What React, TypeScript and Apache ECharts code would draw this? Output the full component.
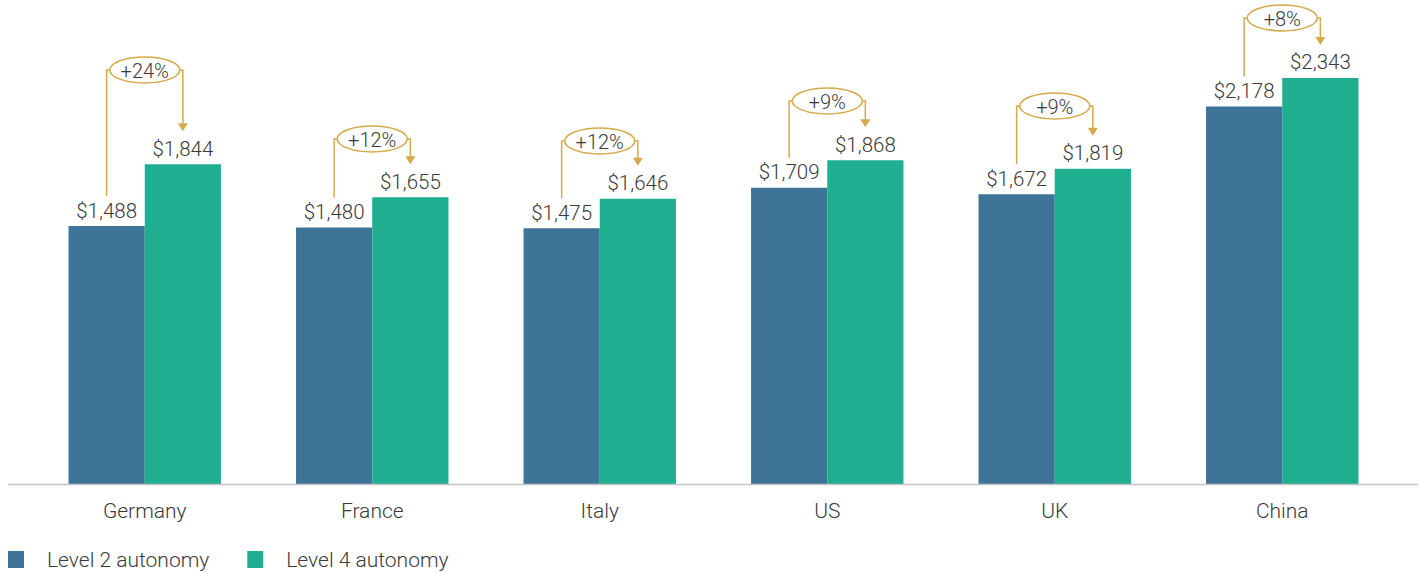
import React, { useEffect, useRef } from "react";
import * as echarts from "echarts";

const categories = ["Germany", "France", "Italy", "US", "UK", "China"];
const level2 = [1488, 1480, 1475, 1709, 1672, 2178];
const level4 = [1844, 1655, 1646, 1868, 1819, 2343];
const changeLabels = ["+24%", "+12%", "+12%", "+9%", "+9%", "+8%"];
const bracketTop = [2389, 1991, 1979, 2210, 2181, 2689];

const C2 = "#3E7497";
const C4 = "#1FAE8F";
const GOLD = "#D6A94A";
const TEXT = "#3a3a3a";
const FONT = "Roboto";
const GAP_PCT = 33;

export default function App() {
  const ref = useRef<HTMLDivElement>(null);
  useEffect(() => {
    const chart = echarts.init(ref.current!, null, { renderer: "svg" });
    const fmt = (v: number) => "$" + v.toLocaleString("en-US");
    const bracketData = categories.map((_, i) => [i, level2[i], level4[i], bracketTop[i]]);
    chart.setOption({
      animation: false,
      grid: { left: 31, right: 30, top: 16, bottom: 89, containLabel: false },
      legend: {
        left: 8,
        top: 549,
        padding: 0,
        icon: "rect",
        itemWidth: 16,
        itemHeight: 17,
        itemGap: 38,
        textStyle: { fontFamily: FONT, fontWeight: 300, fontSize: 21, color: TEXT, padding: [0, 0, 0, 18] },
        data: ["Level 2 autonomy", "Level 4 autonomy"],
      },
      xAxis: {
        type: "category",
        data: categories,
        axisLine: { show: false },
        axisTick: { show: false },
        axisLabel: { fontFamily: FONT, fontWeight: 300, fontSize: 21, color: TEXT, margin: 16 },
      },
      yAxis: { type: "value", min: 0, max: 2700, show: false, splitLine: { show: false } },
      graphic: [
        { type: "line", shape: { x1: 8, y1: 484.5, x2: 1418, y2: 484.5 }, style: { stroke: "#c4c4c4", lineWidth: 1.5 }, z: 10 },
      ],
      series: [
        {
          name: "Level 2 autonomy",
          type: "bar",
          data: level2,
          barGap: "0%",
          barCategoryGap: GAP_PCT + "%",
          itemStyle: { color: C2 },
          label: { show: true, position: "top", distance: 5, formatter: (p: any) => fmt(p.value), fontFamily: FONT, fontWeight: 300, fontSize: 20.5, color: TEXT },
        },
        {
          name: "Level 4 autonomy",
          type: "bar",
          data: level4,
          barGap: "0%",
          barCategoryGap: GAP_PCT + "%",
          itemStyle: { color: C4 },
          label: { show: true, position: "top", distance: 5, formatter: (p: any) => fmt(p.value), fontFamily: FONT, fontWeight: 300, fontSize: 20.5, color: TEXT },
        },
        {
          type: "custom",
          data: bracketData,
          z: 5,
          renderItem: (params: any, api: any) => {
            const i = api.value(0);
            const band = api.size([1, 0])[0];
            const bw = (band * (1 - GAP_PCT / 100)) / 2;
            const cx = api.coord([i, 0])[0];
            const xL = cx - bw / 2;
            const xR = cx + bw / 2;
            const y2 = api.coord([i, api.value(1)])[1];
            const y4 = api.coord([i, api.value(2)])[1];
            const yT = api.coord([i, api.value(3)])[1];
            const tip = y4 - 33;
            const rx = 35;
            const ry = 13;
            const ls = { stroke: GOLD, lineWidth: 1.5, fill: "none" };
            return {
              type: "group",
              children: [
                { type: "polyline", shape: { points: [[xL, y2 - 30], [xL, yT], [cx - rx, yT]] }, style: ls },
                { type: "polyline", shape: { points: [[cx + rx, yT], [xR, yT], [xR, tip - 7]] }, style: ls },
                { type: "polygon", shape: { points: [[xR - 5, tip - 8], [xR + 5, tip - 8], [xR, tip]] }, style: { fill: GOLD } },
                { type: "ellipse", shape: { cx, cy: yT, rx, ry }, style: { fill: "#fff", stroke: GOLD, lineWidth: 1.5 } },
                {
                  type: "text",
                  x: cx,
                  y: yT + 1,
                  style: { text: changeLabels[i], align: "center", verticalAlign: "middle", fontFamily: FONT, fontWeight: 300, fontSize: 20, fill: TEXT },
                },
              ],
            };
          },
        },
      ],
    });
    return () => chart.dispose();
  }, []);
  return <div ref={ref} style={{ position: "fixed", left: 0, top: 0, width: 1426, height: 573, background: "#fff" }} />;
}
